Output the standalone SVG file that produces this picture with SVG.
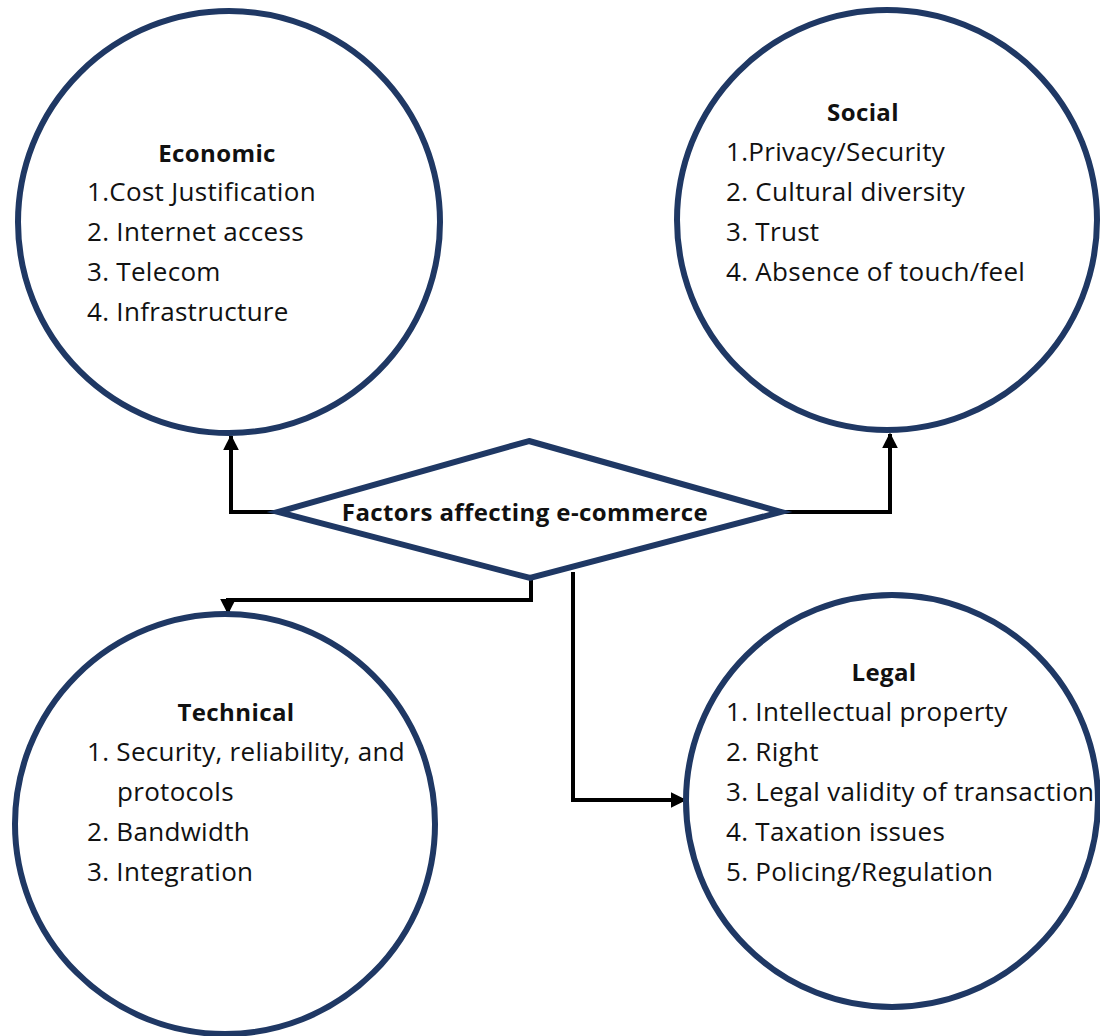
<svg xmlns="http://www.w3.org/2000/svg" width="1100" height="1036" viewBox="0 0 1100 1036">
  <style>
    .node-shape { fill: #ffffff; stroke: #1f3864; stroke-width: 6; }
    .title { font-family: "Open Sans", "Liberation Sans", sans-serif; font-size: 24px; font-weight: 700; letter-spacing: 0.4px; fill: #111111; text-anchor: middle; }
    .item { font-family: "Open Sans", "Liberation Sans", sans-serif; font-size: 26px; letter-spacing: 0.3px; fill: #111111; }
    .conn { fill: none; stroke: #000000; stroke-width: 4; stroke-linejoin: miter; }
  </style>
  <defs>
    <marker id="arrow" viewBox="0 0 10 10" refX="9" refY="5" markerWidth="4" markerHeight="4" orient="auto" markerUnits="strokeWidth">
      <path d="M0,0 L10,5 L0,10 z" fill="#000000"/>
    </marker>
  </defs>
  <rect width="1100" height="1036" fill="#ffffff"/>

  <!-- connectors from the central decision shape -->
  <g id="connectors">
    <path class="conn" d="M278,512 H231 V436" marker-end="url(#arrow)"/>
    <path class="conn" d="M782,512 H890 V434" marker-end="url(#arrow)"/>
    <path class="conn" d="M531,578 V600 H228 V613" marker-end="url(#arrow)"/>
    <path class="conn" d="M573,572 V800 H685" marker-end="url(#arrow)"/>
  </g>

  <g id="economic">
    <circle class="node-shape" cx="229" cy="222" r="211"/>
    <text class="title" x="217" y="162">Economic</text>
    <text class="item" x="87" y="201">1.Cost Justification</text>
    <text class="item" x="87" y="241">2. Internet access</text>
    <text class="item" x="87" y="281">3. Telecom</text>
    <text class="item" x="87" y="321">4. Infrastructure</text>
  </g>

  <g id="social">
    <circle class="node-shape" cx="887" cy="220" r="210"/>
    <text class="title" x="863" y="121">Social</text>
    <text class="item" x="726" y="161">1.Privacy/Security</text>
    <text class="item" x="726" y="201">2. Cultural diversity</text>
    <text class="item" x="726" y="241">3. Trust</text>
    <text class="item" x="726" y="281">4. Absence of touch/feel</text>
  </g>

  <g id="factors">
    <polygon class="node-shape" points="529,441 781,512 530,578 278,512" stroke-width="4"/>
    <text class="title" x="525" y="521">Factors affecting e-commerce</text>
  </g>

  <g id="technical">
    <circle class="node-shape" cx="225" cy="824" r="210"/>
    <text class="title" x="236" y="721">Technical</text>
    <text class="item" x="87" y="761">1. Security, reliability, and</text>
    <text class="item" x="117" y="801">protocols</text>
    <text class="item" x="87" y="841">2. Bandwidth</text>
    <text class="item" x="87" y="881">3. Integration</text>
  </g>

  <g id="legal">
    <circle class="node-shape" cx="892" cy="801" r="206"/>
    <text class="title" x="884" y="681">Legal</text>
    <text class="item" x="726" y="721">1. Intellectual property</text>
    <text class="item" x="726" y="761">2. Right</text>
    <text class="item" x="726" y="801">3. Legal validity of transaction</text>
    <text class="item" x="726" y="841">4. Taxation issues</text>
    <text class="item" x="726" y="881">5. Policing/Regulation</text>
  </g>
</svg>
